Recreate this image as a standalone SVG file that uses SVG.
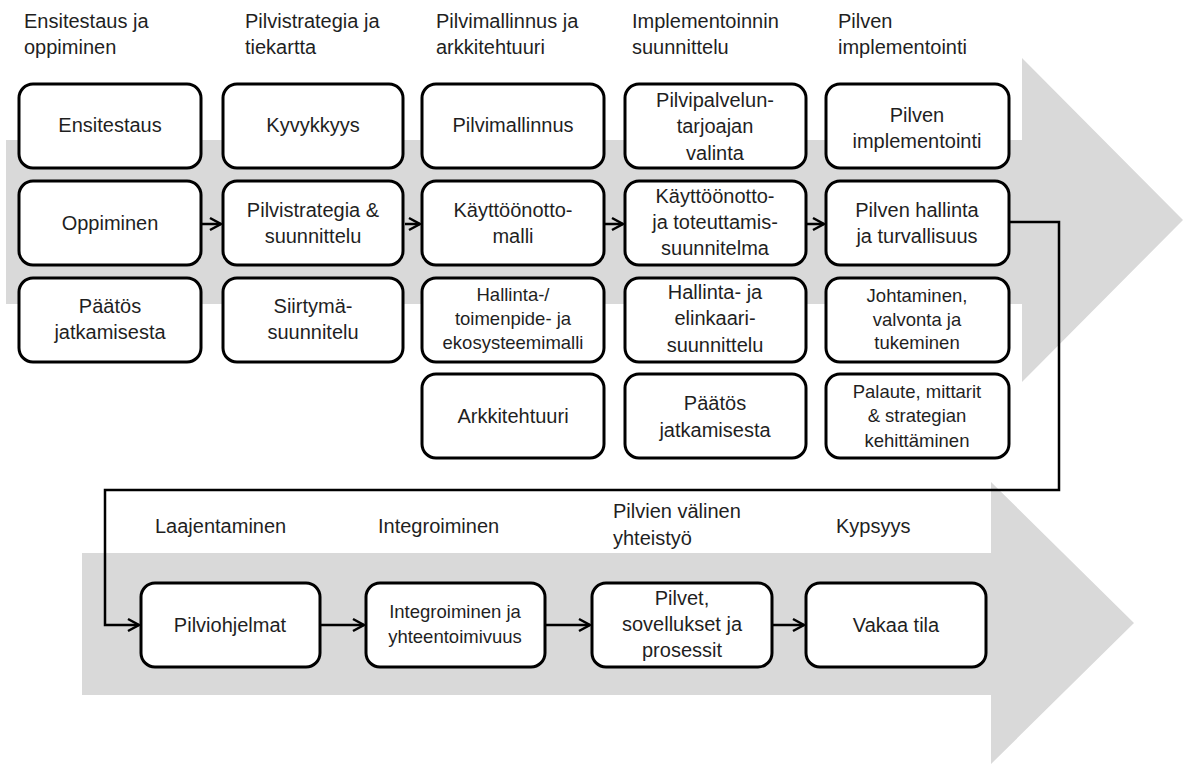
<svg xmlns="http://www.w3.org/2000/svg" width="1183" height="764" viewBox="0 0 1183 764">
<style>
.band{fill:#d9d9d9}
.box rect{fill:#fff;stroke:#000;stroke-width:3}
text{font-family:"Liberation Sans",Arial,sans-serif;fill:#1f1f1f}
.t{font-size:20px;text-anchor:middle}
.s{font-size:18.5px;text-anchor:middle}
.h{font-size:20px}
.conn{fill:none;stroke:#000;stroke-width:2.5}
</style>
<defs>
<marker id="arr" markerUnits="userSpaceOnUse" markerWidth="16" markerHeight="16" refX="12" refY="7" orient="auto" overflow="visible">
<path d="M1,1 L12,7 L1,13" fill="none" stroke="#000" stroke-width="2.5"/>
</marker>
</defs>
<g id="bands">
<path class="band" d="M6,140 H1022 V58 L1183,220 L1022,382 V304 H6 Z"/>
<path class="band" d="M82,553 H991 V482 L1134,623 L991,764 V695 H82 Z"/>
</g>
<g id="headers">
<text class="h" x="24" y="28">Ensitestaus ja</text>
<text class="h" x="24" y="54">oppiminen</text>
<text class="h" x="245" y="28">Pilvistrategia ja</text>
<text class="h" x="245" y="54">tiekartta</text>
<text class="h" x="436" y="28">Pilvimallinnus ja</text>
<text class="h" x="436" y="54">arkkitehtuuri</text>
<text class="h" x="632" y="28">Implementoinnin</text>
<text class="h" x="632" y="54">suunnittelu</text>
<text class="h" x="838" y="28">Pilven</text>
<text class="h" x="838" y="54">implementointi</text>
<text class="h" x="155" y="533">Laajentaminen</text>
<text class="h" x="378" y="533">Integroiminen</text>
<text class="h" x="613" y="518">Pilvien välinen</text>
<text class="h" x="613" y="545">yhteistyö</text>
<text class="h" x="836" y="533">Kypsyys</text>
</g>
<g id="connectors">
<line class="conn" x1="202" y1="224" x2="221" y2="224" marker-end="url(#arr)"/>
<line class="conn" x1="405" y1="224" x2="420" y2="224" marker-end="url(#arr)"/>
<line class="conn" x1="605" y1="224" x2="623" y2="224" marker-end="url(#arr)"/>
<line class="conn" x1="807" y1="224" x2="824" y2="224" marker-end="url(#arr)"/>
<path class="conn" d="M1010,222 H1059 V490 H105 V625 H139" marker-end="url(#arr)"/>
<line class="conn" x1="321" y1="625" x2="364" y2="625" marker-end="url(#arr)"/>
<line class="conn" x1="546" y1="625" x2="590" y2="625" marker-end="url(#arr)"/>
<line class="conn" x1="772" y1="625" x2="804" y2="625" marker-end="url(#arr)"/>
</g>
<g id="n-ensitestaus" class="box"><rect x="19" y="84" width="182" height="84" rx="14"/><text class="t" x="110" y="132">Ensitestaus</text></g>
<g id="n-oppiminen" class="box"><rect x="19" y="181" width="182" height="84" rx="14"/><text class="t" x="110" y="230">Oppiminen</text></g>
<g id="n-paatos1" class="box"><rect x="19" y="278" width="182" height="84" rx="14"/><text class="t" x="110" y="313">Päätös</text><text class="t" x="110" y="339">jatkamisesta</text></g>
<g id="n-kyvykkyys" class="box"><rect x="223" y="84" width="180" height="84" rx="14"/><text class="t" x="313" y="132">Kyvykkyys</text></g>
<g id="n-pilvistrategia" class="box"><rect x="223" y="181" width="180" height="84" rx="14"/><text class="t" x="313" y="217">Pilvistrategia &amp;</text><text class="t" x="313" y="243">suunnittelu</text></g>
<g id="n-siirtyma" class="box"><rect x="223" y="278" width="180" height="84" rx="14"/><text class="t" x="313" y="313">Siirtymä-</text><text class="t" x="313" y="339">suunnitelu</text></g>
<g id="n-pilvimallinnus" class="box"><rect x="422" y="84" width="182" height="84" rx="14"/><text class="t" x="513" y="132">Pilvimallinnus</text></g>
<g id="n-kayttoonottomalli" class="box"><rect x="422" y="181" width="182" height="84" rx="14"/><text class="t" x="513" y="217">Käyttöönotto-</text><text class="t" x="513" y="243">malli</text></g>
<g id="n-hallintamalli" class="box"><rect x="422" y="278" width="182" height="84" rx="14"/><text class="s" x="513" y="301">Hallinta-/</text><text class="s" x="513" y="325">toimenpide- ja</text><text class="s" x="513" y="349">ekosysteemimalli</text></g>
<g id="n-arkkitehtuuri" class="box"><rect x="422" y="374" width="182" height="84" rx="14"/><text class="t" x="513" y="423">Arkkitehtuuri</text></g>
<g id="n-pilvipalvelu" class="box"><rect x="625" y="84" width="181" height="84" rx="14"/><text class="t" x="715" y="107">Pilvipalvelun-</text><text class="t" x="715" y="133">tarjoajan</text><text class="t" x="715" y="160">valinta</text></g>
<g id="n-kayttoonottosuunnitelma" class="box"><rect x="625" y="181" width="181" height="84" rx="14"/><text class="t" x="715" y="203">Käyttöönotto-</text><text class="t" x="715" y="229">ja toteuttamis-</text><text class="t" x="715" y="255">suunnitelma</text></g>
<g id="n-elinkaari" class="box"><rect x="625" y="278" width="181" height="84" rx="14"/><text class="t" x="715" y="299">Hallinta- ja</text><text class="t" x="715" y="325">elinkaari-</text><text class="t" x="715" y="352">suunnittelu</text></g>
<g id="n-paatos2" class="box"><rect x="625" y="374" width="181" height="84" rx="14"/><text class="t" x="715" y="410">Päätös</text><text class="t" x="715" y="437">jatkamisesta</text></g>
<g id="n-pilvenimpl" class="box"><rect x="826" y="84" width="183" height="84" rx="14"/><text class="t" x="917" y="122">Pilven</text><text class="t" x="917" y="148">implementointi</text></g>
<g id="n-hallinta" class="box"><rect x="826" y="181" width="183" height="84" rx="14"/><text class="t" x="917" y="217">Pilven hallinta</text><text class="t" x="917" y="243">ja turvallisuus</text></g>
<g id="n-johtaminen" class="box"><rect x="826" y="278" width="183" height="84" rx="14"/><text class="s" x="917" y="302">Johtaminen,</text><text class="s" x="917" y="326">valvonta ja</text><text class="s" x="917" y="349">tukeminen</text></g>
<g id="n-palaute" class="box"><rect x="826" y="374" width="183" height="84" rx="14"/><text class="s" x="917" y="398">Palaute, mittarit</text><text class="s" x="917" y="422">&amp; strategian</text><text class="s" x="917" y="447">kehittäminen</text></g>
<g id="n-pilviohjelmat" class="box"><rect x="141" y="583" width="179" height="84" rx="14"/><text class="t" x="230" y="632">Pilviohjelmat</text></g>
<g id="n-integroiminen" class="box"><rect x="366" y="583" width="179" height="84" rx="14"/><text class="s" x="455" y="618">Integroiminen ja</text><text class="s" x="455" y="643">yhteentoimivuus</text></g>
<g id="n-pilvet" class="box"><rect x="592" y="583" width="180" height="84" rx="14"/><text class="t" x="682" y="605">Pilvet,</text><text class="t" x="682" y="631">sovellukset ja</text><text class="t" x="682" y="657">prosessit</text></g>
<g id="n-vakaa" class="box"><rect x="806" y="583" width="180" height="84" rx="14"/><text class="t" x="896" y="632">Vakaa tila</text></g>
</svg>
